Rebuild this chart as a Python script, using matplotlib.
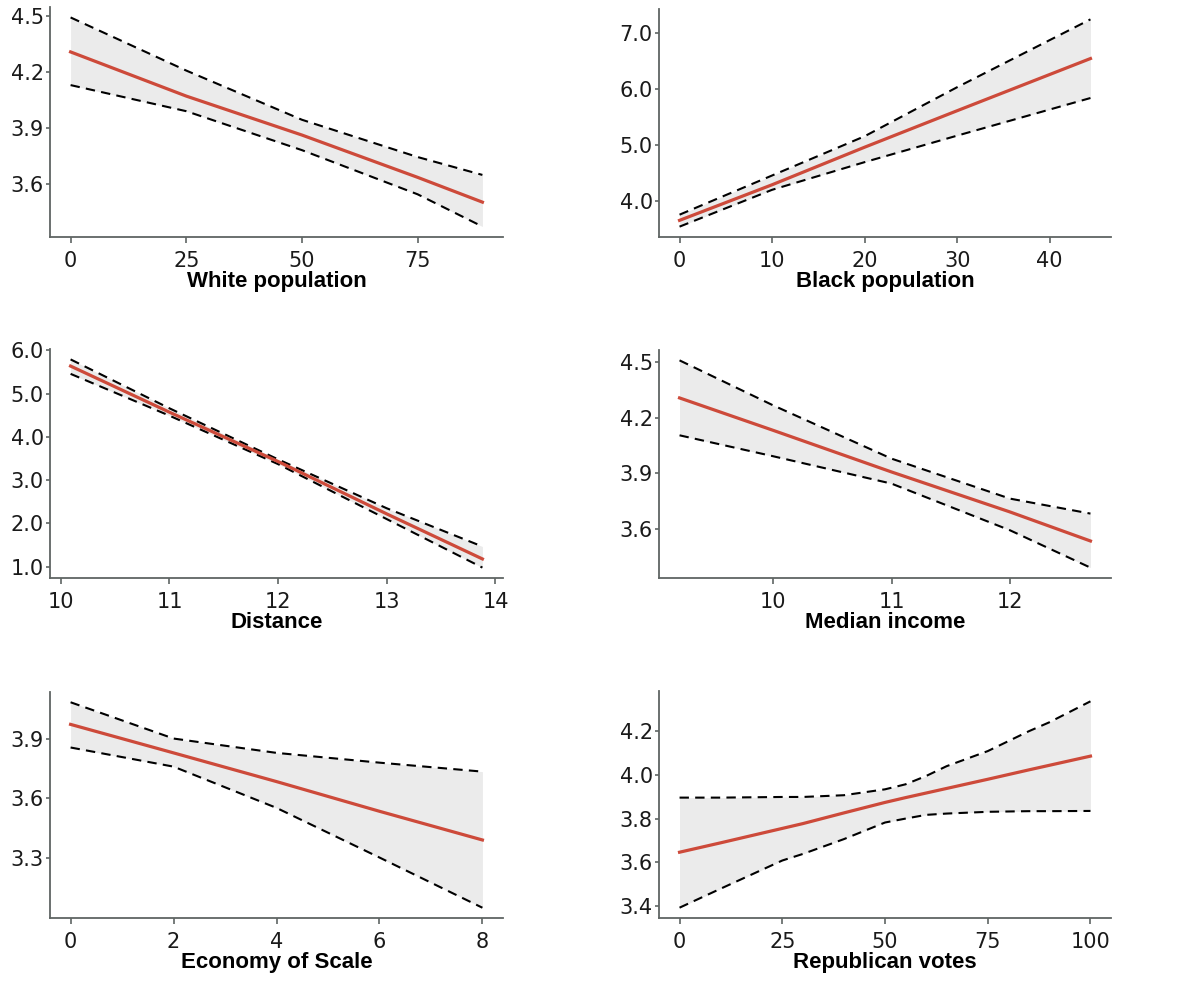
import matplotlib
matplotlib.use('Agg')
import matplotlib.pyplot as plt

# ---- data (predicted value with 95% band) ----
white_x = [0, 25, 50, 75, 89]
white_fit = [4.309, 4.072, 3.863, 3.636, 3.503]
white_up = [4.494, 4.209, 3.945, 3.745, 3.649]
white_lo = [4.131, 3.991, 3.782, 3.545, 3.372]

black_x = [0, 10, 20, 30, 44.4]
black_fit = [3.656, 4.29, 4.959, 5.609, 6.538]
black_up = [3.757, 4.455, 5.154, 6.028, 7.236]
black_lo = [3.544, 4.20, 4.693, 5.165, 5.835]

dist_x = [10.09, 11, 12, 13, 13.88]
dist_fit = [5.636, 4.57, 3.43, 2.22, 1.18]
dist_up = [5.79, 4.66, 3.48, 2.35, 1.467]
dist_lo = [5.456, 4.49, 3.37, 2.10, 0.98]

inc_x = [9.21, 10, 11, 12, 12.68]
inc_fit = [4.306, 4.131, 3.906, 3.69, 3.533]
inc_up = [4.509, 4.266, 3.978, 3.762, 3.681]
inc_lo = [4.104, 3.991, 3.843, 3.591, 3.389]

eco_x = [0, 2, 4, 6, 8]
eco_fit = [3.971, 3.828, 3.684, 3.535, 3.391]
eco_up = [4.082, 3.90, 3.828, 3.779, 3.734]
eco_lo = [3.855, 3.759, 3.552, 3.303, 3.051]

rep_x = [0, 10, 25, 30, 40, 50, 55, 60, 65, 75, 85, 90, 100]
rep_fit = [3.646, 3.689, 3.755, 3.777, 3.826, 3.874, 3.896, 3.917, 3.938, 3.98, 4.023, 4.044, 4.086]
rep_up = [3.896, 3.896, 3.899, 3.899, 3.907, 3.934, 3.957, 3.995, 4.04, 4.109, 4.20, 4.241, 4.337]
rep_lo = [3.392, 3.479, 3.608, 3.638, 3.706, 3.782, 3.80, 3.817, 3.823, 3.831, 3.834, 3.834, 3.835]

panels = [
    ('White population', white_x, white_fit, white_up, white_lo,
     [0, 25, 50, 75], [3.6, 3.9, 4.2, 4.5]),
    ('Black population', black_x, black_fit, black_up, black_lo,
     [0, 10, 20, 30, 40], [4.0, 5.0, 6.0, 7.0]),
    ('Distance', dist_x, dist_fit, dist_up, dist_lo,
     [10, 11, 12, 13, 14], [1.0, 2.0, 3.0, 4.0, 5.0, 6.0]),
    ('Median income', inc_x, inc_fit, inc_up, inc_lo,
     [10, 11, 12], [3.6, 3.9, 4.2, 4.5]),
    ('Economy of Scale', eco_x, eco_fit, eco_up, eco_lo,
     [0, 2, 4, 6, 8], [3.3, 3.6, 3.9]),
    ('Republican votes', rep_x, rep_fit, rep_up, rep_lo,
     [0, 25, 50, 75, 100], [3.4, 3.6, 3.8, 4.0, 4.2]),
]

W, H = 1182, 981
fig = plt.figure(figsize=(W / 100, H / 100), dpi=100)

# axes boxes in pixels: left, top, right, bottom
boxes = [
    (50, 7, 503, 237), (659, 9, 1111, 237),
    (50, 349, 503, 578), (659, 350, 1111, 578),
    (50, 692, 503, 918), (659, 691, 1111, 918),
]

spine_col = '#5f6563'
for (name, x, fit, up, lo, xt, yt), (l, t, r, b) in zip(panels, boxes):
    ax = fig.add_axes([l / W, 1 - b / H, (r - l) / W, (b - t) / H])
    ax.fill_between(x, lo, up, color='#ebebeb', lw=0)
    ax.plot(x, up, color='black', lw=1.5, dashes=(4.5, 3))
    ax.plot(x, lo, color='black', lw=1.5, dashes=(4.5, 3))
    ax.plot(x, fit, color='#cd4a3a', lw=2.3)
    ax.margins(x=0.05, y=0.05)
    ax.set_xticks(xt)
    ax.set_yticks(yt)
    ax.set_xticklabels(['%d' % v for v in xt])
    ax.set_yticklabels(['%.1f' % v for v in yt])
    for s in ['top', 'right']:
        ax.spines[s].set_visible(False)
    for s in ['left', 'bottom']:
        ax.spines[s].set_color(spine_col)
        ax.spines[s].set_linewidth(1.3)
    ax.tick_params(axis='both', colors=spine_col, labelcolor='#1a1a1a',
                   labelsize=15, width=1.2)
    ax.tick_params(axis='x', length=4, pad=6)
    ax.tick_params(axis='y', length=3, pad=1.5)
    ax.set_xlabel(name, fontsize=16, fontweight='bold',
                  family='Liberation Sans', labelpad=0)

fig.savefig('out.png', dpi=100)
